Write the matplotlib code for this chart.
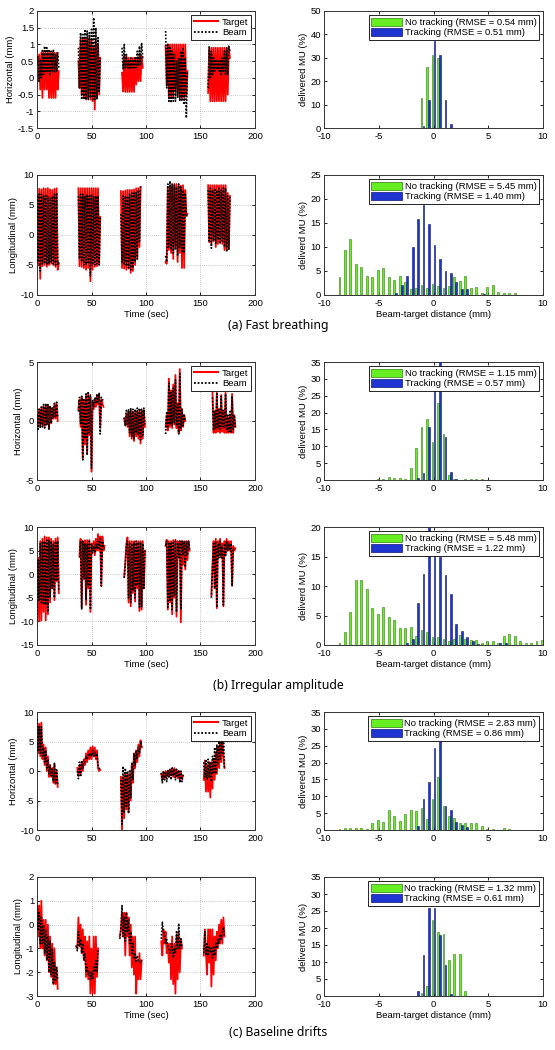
import numpy as np
import matplotlib
matplotlib.use("Agg")
import matplotlib.pyplot as plt
from matplotlib.patches import Patch
from matplotlib.lines import Line2D

plt.rcParams['font.family'] = ['Liberation Sans', 'DejaVu Sans']
plt.rcParams['axes.unicode_minus'] = False

# ---------------- time-series data (values every 1 s per segment) ----------------
DT = 1.0
# (a) Fast breathing - horizontal
fast_h_t0 = [0, 38, 78, 118, 157]
fast_h_target = [
    [0.1, -0.1, 0.7, -0.35, 0.75, -0.6, 0.75, -0.35, 0.75, -0.35, 0.75, -0.6, 0.75, -0.6, 0.75, -0.6, 0.75, -0.6, 0.75, -0.35, 0.2],
    [0.5, -0.3, 1.15, -0.5, 1.2, -0.6, 1.2, -0.65, 1.15, -0.6, 1.2, -0.65, 1.15, -0.7, 0.95, -0.95, 1.1, -0.6, 1.0, -0.5, 0.6],
    [0.15, -0.4, 0.65, -0.42, 0.65, -0.42, 0.6, -0.42, 0.6, -0.42, 0.6, -0.42, 0.6, -0.2, 0.6, -0.1, 0.65, -0.1, 0.65, 0.3],
    [0.95, -0.2, 1.0, -0.55, 1.0, -0.6, 1.0, -0.6, 1.0, -0.4, 1.0, -0.5, 1.0, -0.6, 1.0, -0.6, 1.0, -0.6, 1.0, -0.5, 0.2],
    [-0.45, 0.85, -0.7, 0.9, -0.7, 0.9, -0.7, 0.9, -0.7, 0.9, -0.7, 0.9, -0.7, 0.9, -0.7, 0.9, -0.7, 0.9, -0.5, 0.9, 0.6],
]
fast_h_beam = [
    [0.4, 0.65, -0.1, 0.55, 0.0, 0.85, 0.1, 0.95, 0.15, 0.9, 0.2, 0.85, 0.1, 0.8, 0.2, 0.85, 0.15, 0.7, 0.2, 0.75, 0.3],
    [0.9, -0.3, 1.35, -0.65, 1.3, -0.65, 1.45, -0.65, 1.4, -0.65, 1.35, -0.6, 1.45, -0.65, 1.8, -0.65, 1.5, -0.65, 1.2, -0.4, 0.6],
    [0.9, 0.25, 1.0, 0.3, 0.7, 0.3, 0.55, 0.25, 0.6, 0.3, 0.55, 0.3, 0.6, 0.3, 0.8, 0.35, 0.95, 0.4, 1.05, 0.6],
    [1.4, -0.3, 1.0, -0.7, 0.9, -0.75, 0.8, -0.7, 0.7, -0.7, 0.5, -0.6, 0.6, -0.7, 0.8, -0.7, 0.9, -0.8, 0.6, -1.2, 0.2],
    [-0.3, 0.95, 0.0, 0.8, 0.1, 0.6, 0.2, 0.55, 0.25, 0.5, 0.2, 0.55, 0.1, 0.6, 0.2, 0.8, 0.1, 0.9, 0.1, 0.95, 0.8],
]
# (a) Fast breathing - longitudinal
fast_l_t0 = [0, 38, 77, 118, 157]
fast_l_target = [
    [7.8, -5.0, 7.7, -7.3, 7.6, -5.2, 7.8, -5.0, 7.7, -5.3, 7.8, -5.0, 7.6, -4.8, 7.5, -5.0, 7.7, -5.3, 7.8, -5.8, -4.8],
    [7.8, -5.2, 7.8, -5.3, 7.8, -5.5, 7.8, -5.8, 7.8, -5.5, 7.8, -7.7, 7.8, -5.8, 7.8, -5.3, 7.8, -5.2, 7.8, -4.8, 3.0],
    [7.3, -5.5, 7.3, -5.6, 7.4, -5.8, 7.5, -5.6, 7.5, -6.3, 7.5, -6.0, 7.6, -5.0, 7.8, -4.0, 7.8, -2.0, 8.0],
    [-4.5, -4.8, 8.0, -2.5, 8.0, -3.0, 8.2, -4.0, 8.5, -2.0, 8.5, -4.5, 8.2, -3.0, 8.2, -5.5, 8.3, -5.5, 7.5, 3.5, 3.5],
    [8.3, -1.2, 8.3, -1.5, 8.3, -1.0, 8.3, -2.0, 8.3, -1.5, 8.3, -1.0, 8.3, -1.5, 8.3, -2.5, 8.3, -2.5, 7.0, -2.0, 6.5],
]
fast_l_beam = [
    [6.5, -4.5, 6.8, -6.0, 6.8, -4.8, 6.5, -4.8, 6.8, -5.0, 6.5, -4.8, 6.2, -4.5, 6.5, -4.8, 6.8, -5.0, 7.0, -5.0, -4.5],
    [6.5, -4.0, 6.8, -4.5, 6.8, -5.0, 6.5, -5.0, 6.8, -4.8, 6.5, -6.8, 6.8, -5.0, 6.5, -5.0, 6.5, -4.8, 6.5, -5.0, 3.0],
    [3.5, -4.5, 6.5, -5.0, 6.5, -5.2, 6.5, -5.5, 6.8, -5.8, 7.0, -5.5, 7.0, -4.5, 7.2, -4.0, 7.5, -1.0, 8.2],
    [-3.5, -4.5, 8.5, -2.0, 9.0, -2.5, 8.5, -3.0, 8.3, -2.5, 8.0, -3.5, 8.5, -2.0, 8.0, -3.0, 7.5, -3.0, 7.0, 3.0, 3.5],
    [7.5, -1.0, 7.8, -2.2, 7.5, -1.0, 7.8, -1.5, 7.5, -0.8, 7.8, -1.5, 7.5, -1.0, 7.8, -2.0, 7.8, -2.8, 6.5, -2.5, 6.5],
]
# (b) Irregular amplitude - horizontal
irr_h_t0 = [0, 38, 80, 118, 161]
irr_h_target = [
    [0.3, -0.5, 1.0, -0.3, 1.1, -0.4, 1.2, -0.5, 1.3, -0.3, 1.3, -0.6, 1.2, -0.2, 1.1, 0.2, 1.4, 0.2, 1.5, 0.0],
    [1.0, 1.8, -0.5, 2.0, -3.2, 1.8, -2.0, 2.2, -2.8, 2.3, -1.2, 2.0, -4.3, 1.6, 1.0, 1.8, 1.2, 2.2, 1.4, 2.2, -0.5, 1.8, 1.5, 1.2],
    [0.2, -0.3, 0.6, -0.5, 0.8, -1.3, 0.8, -1.5, 0.8, -1.7, 0.7, -1.3, 0.8, -1.5, 0.9, -1.9, 0.9, -1.5, 0.9, -0.5],
    [-0.5, 0.5, -0.8, 3.6, -0.5, 2.6, -0.6, 3.1, -0.3, 3.9, -0.6, 1.5, -1.0, 4.4, -0.8, 1.0, -0.5, 0.5, 0.0],
    [2.5, -1.0, 0.8, -1.0, 2.4, -0.9, 1.0, -1.0, 2.2, -0.9, 0.8, -1.0, 2.4, -1.0, 0.3, -1.0, 0.5, -1.0, 2.3, -1.0, 0.5, -0.5],
]
irr_h_beam = [
    [0.5, -0.7, 1.0, -0.6, 1.2, -0.5, 1.4, -0.6, 1.5, -0.3, 1.4, -0.7, 1.3, -0.2, 1.2, 0.3, 1.5, 0.3, 1.6, 0.4],
    [0.8, 2.0, -0.2, 2.1, -3.3, 1.9, -1.5, 2.3, -2.9, 2.5, -1.0, 2.2, -4.0, 1.8, 1.2, 2.0, 1.5, 2.3, 1.6, 2.4, -1.1, 2.0, 1.8, 1.8],
    [0.3, -0.4, 0.9, -0.3, 1.0, -1.0, 1.1, -1.3, 1.0, -1.5, 1.0, -1.0, 1.1, -1.2, 1.1, -1.6, 1.0, -1.2, 1.1, -0.3],
    [-1.1, 0.8, -0.6, 3.2, -0.3, 2.4, -0.4, 2.8, -0.2, 3.5, -0.4, 1.4, -1.1, 4.0, -0.6, 1.0, -0.4, 0.6, 0.0],
    [2.0, -0.8, 0.9, -0.7, 2.3, -0.6, 1.0, -0.7, 2.1, -0.5, 0.9, -0.6, 2.3, -0.8, 0.6, -0.9, 0.8, -1.0, 2.1, -0.7, 0.5, -0.5],
]
# (b) Irregular amplitude - longitudinal
irr_l_t0 = [0, 39, 80, 118, 160]
irr_l_target = [
    [-11.0, 3.5, -10.0, 7.0, -9.8, 7.5, -8.0, 8.0, -9.8, 7.8, -8.5, 7.8, -6.0, 7.5, -3.0, 7.0, -5.5, 7.5, -1.5, 7.8, -4.0],
    [4.0, 7.5, -7.0, 7.0, -1.0, 7.2, -6.5, 7.2, -3.0, 7.2, -8.0, 6.5, 5.0, 7.0, 4.0, 7.5, 5.0, 8.5, 5.0, 8.0, -2.5, 8.0, 5.0, 6.0],
    [-0.5, 2.5, 6.5, 7.8, -6.0, 7.0, -6.8, 7.0, -4.0, 7.0, -5.8, 7.0, -3.0, 7.0, -7.8, 7.0, -7.5, 7.0, -3.0, 5.0],
    [6.0, 7.3, -7.5, 7.0, -6.0, 7.0, -8.5, 7.2, -5.0, 7.3, -9.0, 7.0, 4.0, 7.0, -10.2, 7.0, 2.0, 7.0, 1.0, 7.0, 3.0, 7.0, 5.0],
    [-4.5, 2.0, 7.0, -3.0, 7.5, -7.2, 7.0, 4.0, 7.5, 3.5, 6.5, -6.8, 7.0, 4.0, 7.5, 5.0, 7.0, 5.0, 7.0, -2.5, 6.0, 5.0, 5.5],
]
irr_l_beam = [
    [-10.0, 3.0, -5.5, 6.5, -6.0, 7.0, -6.5, 7.0, -6.5, 7.2, -8.0, 7.3, -5.0, 7.0, -3.0, 6.5, -5.0, 7.0, -1.5, 7.0, -3.5],
    [3.5, 7.0, -7.5, 7.0, -1.0, 6.5, -5.5, 6.5, -2.5, 7.0, -7.5, 6.5, 4.5, 6.0, 4.5, 6.5, 5.5, 7.0, 5.5, 7.5, -2.5, 7.0, 5.5, 5.5],
    [-0.8, 2.0, 6.0, 7.0, -5.0, 6.5, -6.0, 6.5, -3.5, 6.8, -5.0, 7.0, -2.5, 6.8, -7.0, 6.8, -7.0, 6.5, -3.0, 5.0],
    [6.0, 7.0, -7.0, 6.5, -5.5, 6.5, -7.5, 7.0, -4.5, 7.0, -8.0, 6.5, 3.5, 7.0, -7.5, 7.0, 4.0, 7.0, 1.5, 7.0, 4.0, 7.0, 5.0],
    [-5.0, 1.5, 6.5, -3.0, 7.0, -7.0, 6.5, 3.5, 7.0, 3.5, 6.0, -6.5, 6.5, 4.0, 7.0, 5.0, 6.5, 5.0, 6.5, -2.5, 5.5, 5.0, 5.0],
]
# (c) Baseline drifts - horizontal
base_h_t0 = [0, 37, 77, 114, 153]
base_h_target = [
    [9.0, 3.0, 8.0, 2.5, 8.2, 2.0, 4.5, 1.0, 4.0, 0.0, 2.5, -1.0, 1.0, -1.0, 0.5, -2.0, 1.2, -2.2, 0.0, -2.7],
    [0.5, -0.8, 1.0, -0.5, 1.5, 0.0, 2.0, 1.0, 3.0, 1.5, 3.5, 2.0, 4.0, 2.0, 4.2, 2.5, 4.0, 2.0, 3.5, 0.5, 0.0, 0.2],
    [-1.0, -10.0, -1.0, -8.0, -0.5, -6.5, -0.5, -7.0, -0.5, -5.0, 1.0, -2.0, 3.0, 0.5, 3.5, 1.5, 4.5, 2.5, 5.2, 4.0],
    [-0.5, -1.5, -0.2, -1.2, 0.0, -1.0, 0.0, -1.0, 0.2, -0.8, 0.5, -1.0, 0.5, -1.0, 0.2, -1.2, 0.0, -1.5, -0.2, -1.3, -0.8],
    [-1.5, 1.8, -3.5, 1.0, -3.5, 1.5, -4.5, 1.5, -3.0, 2.0, -1.5, 3.0, -0.5, 4.0, 0.5, 5.0, 1.5, 5.5, 2.5, 0.5],
]
base_h_beam = [
    [8.8, 3.5, 7.5, 3.0, 7.5, 2.5, 4.0, 1.5, 3.5, 0.5, 2.0, -0.5, 1.0, -0.8, 0.3, -1.8, 1.3, -2.0, 0.2, -2.3],
    [0.0, -1.3, 1.5, -1.0, 1.8, 0.5, 1.5, 1.5, 2.5, 2.0, 3.0, 2.5, 3.0, 2.5, 3.5, 2.5, 3.2, 2.5, 3.0, 1.0, 0.5, 0.2],
    [-1.5, -9.0, 0.8, -7.0, 0.5, -6.0, 0.0, -7.2, 0.2, -4.5, 1.5, -1.5, 3.0, 1.0, 3.5, 2.0, 4.0, 3.0, 5.0, 4.0],
    [-0.3, -2.0, 0.0, -1.5, -0.2, -1.8, 0.2, -1.0, 0.3, -1.5, 0.5, -0.8, 0.4, -1.5, 0.3, -1.0, 0.2, -2.0, 0.0, -1.8, -0.5],
    [1.5, -1.0, 2.0, -1.5, 2.0, -1.0, 1.5, -1.8, 2.5, -0.5, 4.0, -0.5, 4.5, 1.0, 5.0, 2.0, 6.5, 3.0, 7.5, 0.5],
]
# (c) Baseline drifts - longitudinal
base_l_t0 = [0, 36, 76, 114, 153]
base_l_target = [
    [1.2, -0.5, 0.8, -1.0, 1.0, -1.0, 0.2, -1.3, 0.2, -1.5, 0.0, -2.0, -0.5, -2.2, -0.8, -2.5, -1.0, -2.5, -1.8, -2.7],
    [-0.9, -1.0, 0.3, -0.9, 0.0, -1.2, -0.2, -1.5, -0.5, -2.2, -0.7, -2.3, -0.5, -2.9, -1.0, -2.9, -0.5, -2.9, -0.5, -2.2, -1.0],
    [-0.5, -0.2, 0.5, -0.5, 0.5, -1.3, 0.5, -0.5, 0.3, -1.3, 0.0, -1.8, -0.5, -2.1, -0.5, -2.9, -1.5, -2.3, -1.2, -2.3, -1.5],
    [-0.7, -1.3, -0.2, -0.8, -0.3, -1.2, -0.8, -1.6, -0.8, -2.3, -0.5, -2.5, -0.8, -2.9, -0.5, -2.3, -0.3, -2.0, -0.6, -1.0],
    [-1.3, -0.2, -1.2, -2.1, -0.2, -1.6, -0.2, -2.6, -0.2, -2.1, -0.5, -1.5, -0.3, -1.0, 0.0, -0.8, 0.2, -0.8, 0.3, -0.5],
]
base_l_beam = [
    [0.8, -0.2, 0.5, -0.8, 0.3, -0.8, 0.0, -1.2, -0.2, -1.5, -0.5, -2.0, -0.7, -2.1, -1.0, -2.5, -1.6, -2.4, -1.8, -2.3],
    [-0.9, -1.1, -0.3, -0.9, -0.6, -1.2, -0.8, -1.5, -1.2, -2.0, -1.8, -2.1, -2.0, -2.3, -2.0, -2.3, -1.8, -2.0, -1.5, -2.0, -1.0],
    [-0.6, -0.2, 0.8, -0.5, 0.3, -0.7, 0.5, -0.3, 0.2, -0.8, -0.3, -1.2, -0.8, -1.4, -1.2, -1.6, -1.3, -1.5, -1.5, -1.6, -1.5],
    [-0.6, 0.1, -0.3, -0.5, -0.8, -0.6, -0.9, -1.0, -1.2, -1.1, -0.8, -1.4, -1.0, -1.2, -0.3, -1.0, 0.05, -1.0, -0.6, -0.9],
    [-1.2, -0.3, -1.3, -0.8, -1.3, -0.9, -1.2, -1.0, -1.4, -0.9, -1.3, -0.8, -1.0, -0.6, -0.8, -0.4, -0.6, -0.3, -0.1, -0.5],
]

# ---------------- histogram data (bin centres in mm, % delivered MU) ----------------
fast_h_bins = [-1.0, -0.5, 0.0, 0.5, 1.0, 1.5]
fast_h_notrack = [13, 26, 31, 30, 0, 0]
fast_h_track = [1, 12, 37, 31, 12, 1.5]

fast_l_bins = [-8.5, -8.0, -7.5, -7.0, -6.5, -6.0, -5.5, -5.0, -4.5, -4.0, -3.5, -3.0, -2.5, -2.0, -1.5, -1.0,
               -0.5, 0.0, 0.5, 1.0, 1.5, 2.0, 2.5, 3.0, 3.5, 4.0, 4.5, 5.0, 5.5, 6.0, 6.5, 7.0, 7.5]
fast_l_notrack = [3.8, 9.3, 11.6, 6.5, 5.8, 4.0, 3.8, 5.3, 5.6, 3.8, 3.1, 4.0, 2.7, 1.2, 1.4, 2.0,
                  1.5, 2.3, 1.8, 1.4, 1.9, 3.7, 3.0, 4.0, 1.4, 1.7, 0.5, 1.7, 2.1, 0.6, 0.4, 0.4, 0.4]
fast_l_track = [0, 0, 0, 0, 0, 0, 0, 0, 0, 0, 0.5, 2.0, 4.0, 10.1, 15.9, 18.8,
                14.8, 10.5, 7.5, 5.0, 4.6, 2.7, 1.2, 1.2, 0, 0, 0.3, 0, 0, 0, 0, 0, 0]

irr_h_bins = [-5.0, -4.5, -4.0, -3.5, -3.0, -2.5, -2.0, -1.5, -1.0, -0.5, 0.0, 0.5, 1.0, 1.5,
              2.0, 2.5, 3.0, 3.5, 4.0, 4.5]
irr_h_notrack = [0.2, 0.3, 0.9, 0.7, 0.7, 0.3, 3.5, 9.5, 15.6, 18.0, 11.3, 22.9, 13.6, 1.5,
                 0.4, 0.1, 0.3, 0.3, 0.3, 0.2]
irr_h_track = [0, 0, 0, 0, 0, 0, 0, 0.6, 2.0, 15.6, 27.3, 35.0, 12.8, 2.5,
               0.2, 0, 0, 0, 0, 0]

irr_l_bins = [-8.5, -8.0, -7.5, -7.0, -6.5, -6.0, -5.5, -5.0, -4.5, -4.0, -3.5, -3.0, -2.5, -2.0,
              -1.5, -1.0, -0.5, 0.0, 0.5, 1.0, 1.5, 2.0, 2.5, 3.0, 3.5, 4.0, 4.5, 5.0, 5.5, 6.0,
              6.5, 7.0, 7.5, 8.0, 8.5, 9.0, 9.5, 10.0]
irr_l_notrack = [0.3, 2.2, 5.6, 11.1, 11.1, 9.5, 6.2, 5.3, 6.4, 4.7, 4.3, 2.8, 2.8, 3.1,
                 1.5, 2.5, 2.2, 1.3, 1.3, 1.0, 0.6, 1.1, 1.7, 1.0, 0.8, 0.8, 0.3, 0.6, 0.6, 0.4,
                 1.5, 1.8, 1.5, 0.7, 0.4, 0.4, 0.6, 0.9]
irr_l_track = [0, 0, 0, 0, 0, 0, 0, 0, 0, 0, 0, 0, 0.3, 1.0,
               7.1, 12.0, 20.0, 15.5, 15.0, 11.8, 8.6, 3.6, 2.4, 1.4, 0.6, 0.2, 0, 0, 0, 0.3,
               0.3, 0, 0, 0, 0, 0, 0, 0]

base_h_bins = [-9.0, -8.5, -8.0, -7.5, -7.0, -6.5, -6.0, -5.5, -5.0, -4.5, -4.0, -3.5, -3.0, -2.5,
               -2.0, -1.5, -1.0, -0.5, 0.0, 0.5, 1.0, 1.5, 2.0, 2.5, 3.0, 3.5, 4.0, 4.5, 5.0, 5.5,
               6.0, 6.5, 7.0]
base_h_notrack = [0.1, 0.2, 0.7, 0.5, 0.5, 0.5, 0.3, 2.2, 2.9, 2.4, 5.9, 4.2, 2.6, 4.8,
                  5.8, 5.7, 6.6, 3.3, 9.3, 15.6, 7.2, 4.3, 3.6, 2.0, 2.1, 2.2, 2.2, 1.2, 0.3, 0.2,
                  0.1, 0.7, 0.2]
base_h_track = [0, 0, 0, 0, 0, 0, 0, 0, 0, 0, 0, 0, 0, 0,
                0, 1.3, 9.3, 14.3, 24.3, 27.0, 7.0, 5.9, 2.5, 1.6, 0.8, 0, 0, 0, 0, 0,
                0, 0, 0]

base_l_bins = [-1.5, -1.0, -0.5, 0.0, 0.5, 1.0, 1.5, 2.0, 2.5, 3.0]
base_l_notrack = [0, 1.0, 2.8, 22.3, 18.9, 18.3, 10.7, 12.3, 12.3, 1.5]
base_l_track = [1.6, 12.0, 26.0, 26.0, 17.8, 9.1, 0.7, 0, 0, 0]

rmse_labels = [("0.54", "0.51"), ("5.45", "1.40"), ("1.15", "0.57"),
               ("5.48", "1.22"), ("2.83", "0.86"), ("1.32", "0.61")]
captions = ["(a) Fast breathing", "(b) Irregular amplitude", "(c) Baseline drifts"]

# ---------------- styling ----------------
FS = 6.8
RED = '#ff0000'
GREEN = '#66ee22'
GREEN_EDGE = '#2f7a10'
BLUE = '#1f34d0'
BLUE_EDGE = '#0a1470'

W, H = 555, 1050
fig = plt.figure(figsize=(W / 100, H / 100), dpi=100)

def add_ax(x0, x1, y0, y1):
    return fig.add_axes([x0 / W, 1 - y1 / H, (x1 - x0) / W, (y1 - y0) / H])

rows = [(11, 128), (175, 295), (362, 480), (527, 645), (712, 830), (877, 996)]
LX = (37, 255)
RX = (324, 543)

def style(ax):
    ax.tick_params(direction='in', labelsize=FS, length=2.5, width=0.6,
                   top=True, right=True, pad=2)
    ax.tick_params(axis='x', pad=3)
    for s in ax.spines.values():
        s.set_linewidth(0.7)
        s.set_color('#333333')

ts_sets = [
    (fast_h_t0, fast_h_target, fast_h_beam, (-1.5, 2), np.arange(-1.5, 2.01, 0.5), 'Horizontal (mm)'),
    (fast_l_t0, fast_l_target, fast_l_beam, (-10, 10), [-10, -5, 0, 5, 10], 'Longitudinal (mm)'),
    (irr_h_t0, irr_h_target, irr_h_beam, (-5, 5), [-5, 0, 5], 'Horizontal (mm)'),
    (irr_l_t0, irr_l_target, irr_l_beam, (-15, 10), [-15, -10, -5, 0, 5, 10], 'Longitudinal (mm)'),
    (base_h_t0, base_h_target, base_h_beam, (-10, 10), [-10, -5, 0, 5, 10], 'Horizontal (mm)'),
    (base_l_t0, base_l_target, base_l_beam, (-3, 2), [-3, -2, -1, 0, 1, 2], 'Longitudinal (mm)'),
]

hist_sets = [
    (fast_h_bins, fast_h_notrack, fast_h_track, 50, 10, 'delivered MU (%)'),
    (fast_l_bins, fast_l_notrack, fast_l_track, 25, 5, 'deliverd MU (%)'),
    (irr_h_bins, irr_h_notrack, irr_h_track, 35, 5, 'delivered MU (%)'),
    (irr_l_bins, irr_l_notrack, irr_l_track, 20, 5, 'deliverd MU (%)'),
    (base_h_bins, base_h_notrack, base_h_track, 35, 5, 'delivered MU (%)'),
    (base_l_bins, base_l_notrack, base_l_track, 35, 5, 'deliverd MU (%)'),
]

for i, (y0, y1) in enumerate(rows):
    # ---- left: time series ----
    t0s, tgt, beam, ylim, yticks, ylab = ts_sets[i]
    ax = add_ax(LX[0], LX[1], y0, y1)
    for t0, seg_t, seg_b in zip(t0s, tgt, beam):
        tt = t0 + np.arange(len(seg_t)) * DT
        ax.plot(tt, seg_t, color=RED, lw=1.3, zorder=2)
        tb = t0 + np.arange(len(seg_b)) * DT
        ax.plot(tb, seg_b, color='black', lw=1.2, ls=(0, (1, 1)), zorder=3)
    ax.set_xlim(0, 200)
    ax.set_ylim(*ylim)
    ax.set_xticks([0, 50, 100, 150, 200])
    ax.set_yticks(yticks)
    ax.set_yticklabels([('%g' % v) for v in yticks])
    ax.grid(True, ls=(0, (1, 2)), color='#999999', lw=0.5)
    ax.set_ylabel(ylab, fontsize=FS, labelpad=2)
    if i % 2 == 1:
        ax.set_xlabel('Time (sec)', fontsize=FS, labelpad=1)
    else:
        handles = [Line2D([], [], color=RED, lw=1.5), Line2D([], [], color='black', lw=1.3, ls=(0, (1, 1)))]
        leg = ax.legend(handles, ['Target', 'Beam'], loc='upper right', fontsize=FS,
                        frameon=True, fancybox=False, edgecolor='black', framealpha=1,
                        borderpad=0.3, handlelength=2.6, handletextpad=0.4, labelspacing=0.15,
                        borderaxespad=0.4)
        leg.get_frame().set_linewidth(0.6)
    style(ax)

    # ---- right: histogram ----
    bins, nt, tr, ymax, ystep, hlab = hist_sets[i]
    ax2 = add_ax(RX[0], RX[1], y0, y1)
    b = np.array(bins)
    ax2.bar(b - 0.09, nt, width=0.17, color=GREEN, edgecolor=GREEN_EDGE, linewidth=0.4, zorder=2)
    ax2.bar(b + 0.09, tr, width=0.17, color=BLUE, edgecolor=BLUE_EDGE, linewidth=0.4, zorder=2)
    ax2.set_xlim(-10, 10)
    ax2.set_ylim(0, ymax)
    ax2.set_xticks([-10, -5, 0, 5, 10])
    ax2.set_yticks(np.arange(0, ymax + 0.1, ystep))
    ax2.set_ylabel(hlab, fontsize=FS, labelpad=2)
    if i % 2 == 1:
        ax2.set_xlabel('Beam-target distance (mm)', fontsize=FS, labelpad=1)
    r_nt, r_tr = rmse_labels[i]
    handles = [Patch(facecolor=GREEN, edgecolor=GREEN_EDGE, lw=0.5),
               Patch(facecolor=BLUE, edgecolor=BLUE_EDGE, lw=0.5)]
    leg = ax2.legend(handles, ['No tracking (RMSE = %s mm)' % r_nt, 'Tracking (RMSE = %s mm)' % r_tr],
                     loc='upper right', fontsize=FS, frameon=True, fancybox=False,
                     edgecolor='black', framealpha=1, borderpad=0.3, handlelength=3.2,
                     handleheight=1.0, handletextpad=0.3, labelspacing=0.1, borderaxespad=0.4)
    leg.get_frame().set_linewidth(0.6)
    style(ax2)

cap_y = [325, 685, 1033]
for cy, txt in zip(cap_y, captions):
    fig.text(278 / W, 1 - cy / H, txt, ha='center', va='center', fontsize=8.8,
             family=['Noto Sans', 'DejaVu Sans'])

fig.savefig('out.png', dpi=100, facecolor='white')
